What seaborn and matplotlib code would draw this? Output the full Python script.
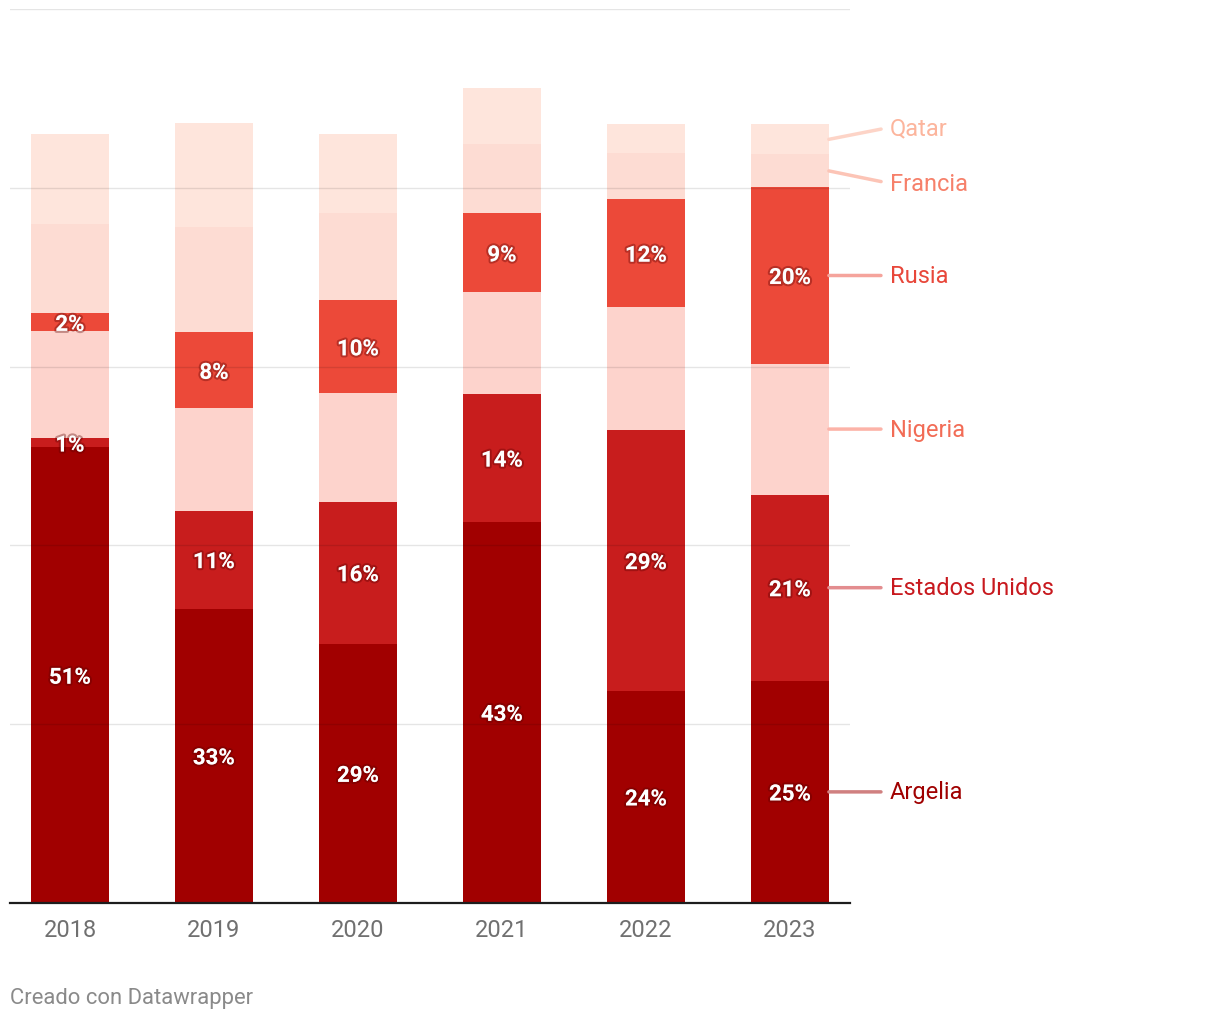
import numpy as np
import pandas as pd
import matplotlib
matplotlib.use("Agg")
import matplotlib.pyplot as plt
import matplotlib.patheffects as pe
import seaborn as sns

# datos
years = ["2018", "2019", "2020", "2021", "2022", "2023"]
argelia = [254.8, 164.6, 145.0, 213.3, 118.7, 124.3]
eeuu = [5.0, 54.9, 79.5, 71.1, 145.6, 104.1]
nigeria = [59.9, 57.1, 60.5, 57.1, 68.9, 73.3]
rusia = [10.1, 42.6, 52.1, 44.2, 60.5, 98.5]
francia = [49.8, 58.8, 48.7, 38.6, 25.8, 18.5]
qatar = [50.4, 58.2, 44.2, 31.4, 16.2, 16.8]

pct_argelia = ["51%", "33%", "29%", "43%", "24%", "25%"]
pct_eeuu = ["1%", "11%", "16%", "14%", "29%", "21%"]
pct_rusia = ["2%", "8%", "10%", "9%", "12%", "20%"]

series = ["Argelia", "Estados Unidos", "Nigeria", "Rusia", "Francia", "Qatar"]
values = [argelia, eeuu, nigeria, rusia, francia, qatar]
pcts = [pct_argelia, pct_eeuu, None, pct_rusia, None, None]

bar_colors = ["#a10000", "#c81d1d", "#fdd3cc", "#ec4939", "#fddcd3", "#fee5dc"]
text_colors = ["#a00000", "#c8191e", "#f26c56", "#e8473a", "#f6806a", "#fcb59d"]
line_colors = ["#d08080", "#e38d8f", "#fcb3a8", "#f5a49c", "#fcc4b6", "#fdd4c7"]
label_shift = [0, 0, 0, 0, -12.5, 12]  # px

plt.rcParams["font.family"] = ["Roboto", "DejaVu Sans"]

fig = plt.figure(figsize=(12.2, 10.2), dpi=100)
ax = fig.add_axes([10 / 1220, 116 / 1020, 840 / 1220, 894 / 1020])

width = 0.54
bottom = np.zeros(len(years))
shadow = [pe.withStroke(linewidth=3, foreground=(0.35, 0, 0, 0.35))]

for name, vals, pc, col in zip(series, values, pcts, bar_colors):
    df = pd.DataFrame({"year": years, "value": vals})
    sns.barplot(data=df, x="year", y="value", color=col, width=width,
                bottom=bottom, saturation=1, linewidth=0, ax=ax, zorder=1)
    if pc is not None:
        for i, lab in enumerate(pc):
            ax.text(i, bottom[i] + vals[i] / 2, lab, ha="center", va="center_baseline",
                    color="white", fontsize=16, fontweight="bold",
                    path_effects=shadow, zorder=4)
    bottom = bottom + np.array(vals)

# etiquetas a la derecha (serie 2023)
bot23 = 0
for name, vals, tc, lc, sh in zip(series, values, text_colors, line_colors, label_shift):
    ymid = bot23 + vals[-1] / 2
    bot23 += vals[-1]
    ax.annotate(name, xy=(5 + width / 2, ymid), xytext=(44, sh * 0.72),
                textcoords="offset points", ha="left", va="center",
                fontsize=17, color=tc, annotation_clip=False,
                arrowprops=dict(arrowstyle="-", color=lc, lw=2.5,
                                shrinkA=4.5, shrinkB=0, relpos=(0, 0.5)))

ax.set_xlim(-60 / 144, 5 + 60 / 144)
ax.set_ylim(0, 500)
ax.set_yticks([0, 100, 200, 300, 400, 500])
ax.set_yticklabels([])
ax.grid(axis="y", color="black", alpha=0.1, linewidth=1)
ax.set_axisbelow(False)
ax.tick_params(axis="y", length=0)
ax.tick_params(axis="x", length=0, pad=11, labelsize=17, labelcolor="#707070")
ax.set_xlabel("")
ax.set_ylabel("")
for s in ["top", "right", "left"]:
    ax.spines[s].set_visible(False)
ax.spines["bottom"].set_color("#1d1d1d")
ax.spines["bottom"].set_linewidth(1.6)
ax.spines["bottom"].set_zorder(5)

fig.text(10 / 1220, 1 - 999 / 1020, "Creado con Datawrapper", ha="left", va="center",
         fontsize=15.8, color="#8a8a8a")

fig.savefig("out.png", dpi=100, facecolor="white")
